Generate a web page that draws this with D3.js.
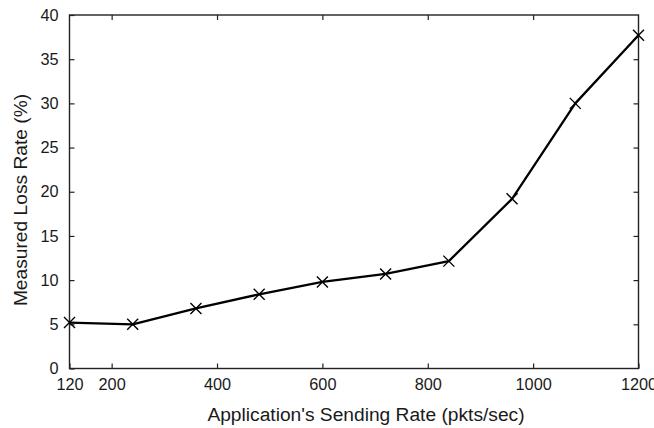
<!DOCTYPE html>
<html>
<head>
<meta charset="utf-8">
<script src="https://cdn.jsdelivr.net/npm/d3@7/dist/d3.min.js"></script>
<style>
  html, body { margin: 0; padding: 0; background: #fff; }
  svg { display: block; }
  text { font-family: "Liberation Sans", Arial, Helvetica, sans-serif; fill: #1a1a1a; }
</style>
</head>
<body>
<svg id="chart" width="654" height="428"></svg>
<script>
// Sending rate (pkts/sec) and measured loss rate (%)
const sendingRates = [120, 240, 360, 480, 600, 720, 840, 960, 1080, 1200];
const lossRates = [5.2, 5.0, 6.8, 8.4, 9.8, 10.7, 12.15, 19.2, 30.0, 37.7];
const xTicks = [120, 200, 400, 600, 800, 1000, 1200];
const yTicks = [0, 5, 10, 15, 20, 25, 30, 35, 40];

const svg = d3.select("#chart");
const plotLeft = 69.5, plotRight = 638.5, plotTop = 15, plotBottom = 368.5;
const tickLen = 5;

const x = d3.scaleLinear().domain([120, 1200]).range([plotLeft, plotRight]);
const y = d3.scaleLinear().domain([0, 40]).range([plotBottom, plotTop]);

// Bottom axis: ticks point inward, labels below
const xAxis = d3.axisBottom(x).tickValues(xTicks).tickFormat(d3.format("d"))
  .tickSizeInner(-tickLen).tickSizeOuter(0).tickPadding(10);
svg.append("g").attr("transform", `translate(0,${plotBottom})`).call(xAxis)
  .call(g => g.select(".domain").remove())
  .call(g => g.selectAll("text").attr("font-size", 16.3).attr("fill", "#1a1a1a"));

// Top axis: inward ticks only
const xTop = d3.axisTop(x).tickValues(xTicks.filter(v => v !== 120 && v !== 1200)).tickSizeInner(-tickLen).tickSizeOuter(0).tickFormat("");
svg.append("g").attr("transform", `translate(0,${plotTop})`).call(xTop).call(g => g.select(".domain").remove());

// Left axis
const yAxis = d3.axisLeft(y).tickValues(yTicks).tickFormat(d3.format("d"))
  .tickSizeInner(-tickLen).tickSizeOuter(0).tickPadding(11);
svg.append("g").attr("transform", `translate(${plotLeft},0)`).call(yAxis)
  .call(g => g.select(".domain").remove())
  .call(g => g.selectAll("text").attr("font-size", 16.3).attr("fill", "#1a1a1a"));

// Right axis: inward ticks only
const yRight = d3.axisRight(y).tickValues(yTicks.filter(v => v !== 0 && v !== 40)).tickSizeInner(-tickLen).tickSizeOuter(0).tickFormat("");
svg.append("g").attr("transform", `translate(${plotRight},0)`).call(yRight).call(g => g.select(".domain").remove());

svg.selectAll(".tick line").attr("stroke", "#222").attr("stroke-width", 1.2);

// Plot frame
svg.append("rect")
  .attr("x", plotLeft).attr("y", plotTop)
  .attr("width", plotRight - plotLeft).attr("height", plotBottom - plotTop)
  .attr("fill", "none").attr("stroke", "#222").attr("stroke-width", 1.4);

const pts = sendingRates.map((r, i) => [r, lossRates[i]]);

// Loss curve
svg.append("path")
  .datum(pts)
  .attr("fill", "none")
  .attr("stroke", "#000")
  .attr("stroke-width", 2.3)
  .attr("stroke-linejoin", "round")
  .attr("d", d3.line().x(d => x(d[0])).y(d => y(d[1])));

// Cross markers
const m = 5.5;
const marks = svg.append("g").attr("stroke", "#000").attr("stroke-width", 1.4);
marks.selectAll("path").data(pts).join("path")
  .attr("d", d => {
    const cx = x(d[0]), cy = y(d[1]);
    return `M${cx - m},${cy - m}L${cx + m},${cy + m}M${cx - m},${cy + m}L${cx + m},${cy - m}`;
  });

// Axis titles
svg.append("text")
  .attr("x", 366).attr("y", 421)
  .attr("text-anchor", "middle").attr("font-size", 19.2)
  .text("Application's Sending Rate (pkts/sec)");

svg.append("text")
  .attr("transform", "translate(27,200) rotate(-90)")
  .attr("text-anchor", "middle").attr("font-size", 19.2)
  .text("Measured Loss Rate (%)");
</script>
</body>
</html>
